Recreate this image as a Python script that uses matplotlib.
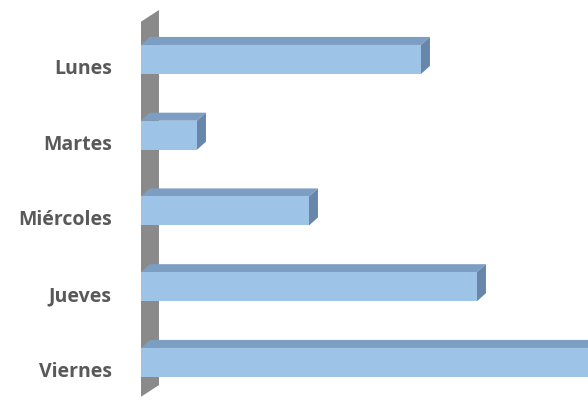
import matplotlib
matplotlib.use('Agg')
import matplotlib.pyplot as plt
from matplotlib.patches import Polygon
import numpy as np

# data
dias = ['Lunes', 'Martes', 'Miércoles', 'Jueves', 'Viernes']
valores = [5, 1, 3, 6, 8]

# colours of the 3d bar faces
col_front = '#9dc3e6'
col_top = '#7d9ec3'
col_side = '#6886aa'
col_wall = '#8a8a8a'

fig = plt.figure(figsize=(5.88, 4.03), dpi=100)
ax = fig.add_axes([141 / 588, 0, 448 / 588, 1])

y = np.arange(len(dias))
bar_h = 0.383
# depth of the bars (data units)
dx, dy = 0.16, -0.106

# grey side wall
wall = Polygon([(-0.143, -0.43), (0.321, -0.653), (0.321, 4.298), (-0.143, 4.522)],
               closed=True, facecolor=col_wall, edgecolor='none', zorder=1)
ax.add_patch(wall)

for yi, v in zip(y, valores):
    top = yi - bar_h / 2
    bot = yi + bar_h / 2
    # top face
    ax.add_patch(Polygon([(0, top), (dx, top + dy), (v + dx, top + dy), (v, top)],
                         closed=True, facecolor=col_top, edgecolor='none', zorder=2))
    # side face
    ax.add_patch(Polygon([(v, top), (v + dx, top + dy), (v + dx, bot + dy), (v, bot)],
                         closed=True, facecolor=col_side, edgecolor='none', zorder=2))

ax.barh(y, valores, height=bar_h, color=col_front, zorder=3)

ax.set_xlim(0, 448 / 56)
ax.set_ylim(4.535, -0.785)

# labels a little below the bar centre
ax.set_yticks(y + 0.09)
ax.set_yticklabels(dias, fontsize=14, fontweight='bold', color='#595959',
                   family=['Open Sans', 'DejaVu Sans'])
ax.tick_params(axis='y', length=0, pad=21)
ax.set_xticks([])
for s in ax.spines.values():
    s.set_visible(False)
ax.patch.set_visible(False)

fig.savefig('out.png', dpi=100)
